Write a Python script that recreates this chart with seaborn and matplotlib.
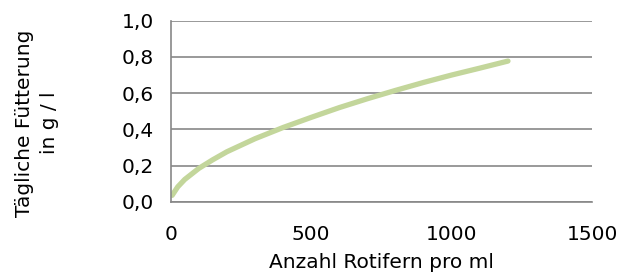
import matplotlib
matplotlib.use("Agg")
import matplotlib.pyplot as plt
import seaborn as sns
import pandas as pd

rotifers = [5, 25, 50, 100, 150, 200, 300, 400, 500, 600, 700, 800, 900, 1000, 1100, 1200]
feeding = [0.035, 0.082, 0.123, 0.184, 0.232, 0.276, 0.348, 0.41, 0.466, 0.52, 0.569, 0.615, 0.659, 0.70, 0.738, 0.777]
x_ticks = [0, 500, 1000, 1500]
y_ticks = [0.0, 0.2, 0.4, 0.6, 0.8, 1.0]
y_tick_labels = ["0,0", "0,2", "0,4", "0,6", "0,8", "1,0"]

sns.set_style("white")
plt.rcParams['font.family'] = ['DejaVu Sans']

df = pd.DataFrame({"x": rotifers, "y": feeding})

W, H = 624, 278
fig = plt.figure(figsize=(W / 100, H / 100), dpi=100)
left, right, top, bottom = 170.7, 592.3, 20.7, 201.7
ax = fig.add_axes([left / W, 1 - bottom / H, (right - left) / W, (bottom - top) / H])

grid_col = "#878787"
sns.lineplot(data=df, x="x", y="y", ax=ax, color="#c3d69b", linewidth=3.8,
             solid_capstyle="round")

ax.set_xlim(0, 1500)
ax.set_ylim(0, 1.0)
ax.set_xticks(x_ticks)
ax.set_xticklabels([str(v) for v in x_ticks])
ax.set_yticks(y_ticks)
ax.set_yticklabels(y_tick_labels)
ax.yaxis.grid(True, color=grid_col, linewidth=1.2)
ax.set_axisbelow(True)
for s in ["top", "right"]:
    ax.spines[s].set_visible(False)
for s in ["left", "bottom"]:
    ax.spines[s].set_color(grid_col)
    ax.spines[s].set_linewidth(1.2)
ax.tick_params(axis="x", direction="out", length=6, width=1.2, color=grid_col,
               pad=11, labelsize=14.5, labelcolor="#000000")
ax.tick_params(axis="y", direction="out", length=6, width=1.2, color=grid_col,
               pad=6, labelsize=14.5, labelcolor="#000000")
ax.set_xlabel("Anzahl Rotifern pro ml", fontsize=14.5, labelpad=6, color="#000000")
ax.set_ylabel("")
fig.text(37 / W, 1 - 123 / H, "Tägliche Fütterung\nin g / l", rotation=90,
         ha="center", va="center", fontsize=14.5, linespacing=1.45, color="#000000")

fig.savefig("out.png", dpi=100)
